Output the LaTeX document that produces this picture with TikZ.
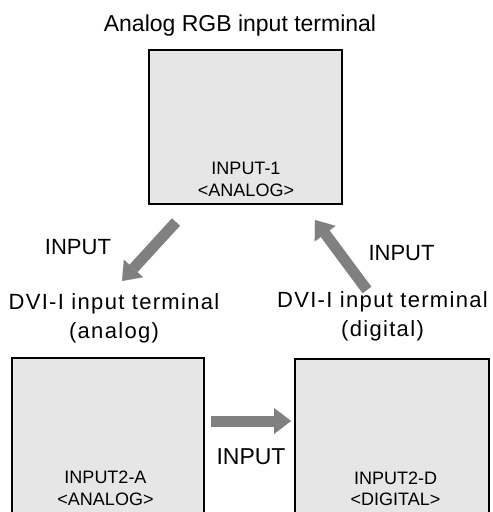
\documentclass[tikz,border=0pt]{standalone}
\usepackage{fontspec}
\setmainfont{Liberation Sans}
\usetikzlibrary{arrows.meta}
\definecolor{boxfill}{HTML}{E6E6E6}
\definecolor{arrowgray}{HTML}{808080}
\tikzset{
  panel/.style={draw=black, line width=1.6pt, fill=boxfill, inner sep=0pt},
  bigarrow/.style={draw=arrowgray, line width=11pt,
    -{Triangle[length=17pt,width=26pt,line width=0.1pt,fill=arrowgray]}},
  bigtext/.style={font=\fontsize{22}{29}\selectfont, inner sep=0pt, anchor=base},
  dvitext/.style={font=\fontsize{22}{29}\selectfont\addfontfeature{LetterSpace=6}, inner sep=0pt, anchor=base, align=center},
  paneltext/.style={font=\fontsize{18}{21.5}\selectfont, inner sep=0pt, anchor=base, align=center},
}
\begin{document}
\begin{tikzpicture}[x=1pt,y=-1pt]
\useasboundingbox (0,0) rectangle (493,512);
\clip (0,0) rectangle (493,512);
% panels
\node[panel, minimum width=193pt, minimum height=154pt] (in1) at (245.5,127) {};
\node[panel, minimum width=192pt, minimum height=172pt] (in2a) at (108,444) {};
\node[panel, minimum width=194pt, minimum height=171pt] (in2d) at (392,444.5) {};
% panel labels (anchor = baseline of last line)
\node[paneltext] (lab1) at (246,196) {INPUT-1\\<ANALOG>};
\node[paneltext] (lab2a) at (105.5,505) {INPUT2-A\\<ANALOG>};
\node[paneltext] (lab2d) at (395.5,505.5) {INPUT2-D\\<DIGITAL>};
% titles
\node[bigtext, font=\fontsize{23}{29}\selectfont] (title) at (240,31) {Analog RGB input terminal};
\node[dvitext] (dviA) at (114,338) {DVI-I input terminal\\(analog)};
\node[dvitext] (dviD) at (382.5,336.5) {DVI-I input terminal\\(digital)};
% arrow labels
\node[bigtext] (inL) at (78,254) {INPUT};
\node[bigtext] (inR) at (401.5,260) {INPUT};
\node[bigtext, font=\fontsize{23}{29}\selectfont] (inB) at (251,464) {INPUT};
% arrows
\coordinate (aLs) at (176,222);
\coordinate (aLe) at (122,281);
\coordinate (aRs) at (367,290);
\coordinate (aRe) at (315,220);
\coordinate (aHs) at (211,421);
\coordinate (aHe) at (291,421);
\draw[bigarrow] (aLs) -- (aLe);
\draw[bigarrow] (aRs) -- (aRe);
\draw[bigarrow] (aHs) -- (aHe);
\end{tikzpicture}
\end{document}
